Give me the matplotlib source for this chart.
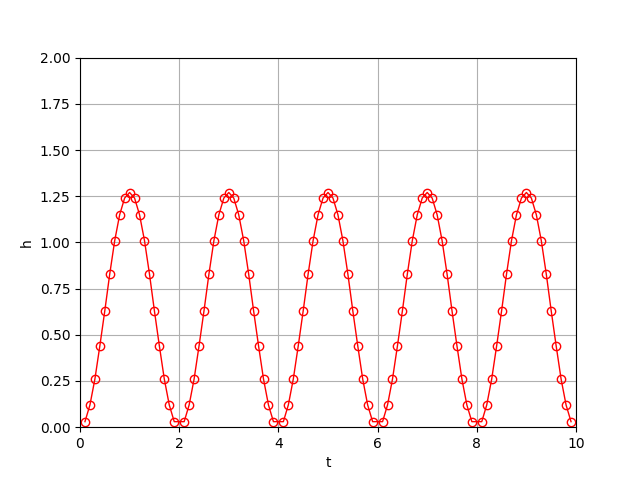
import numpy as np
import matplotlib
matplotlib.use("Agg")
import matplotlib.pyplot as plt

# values, one row per hump
t = [0.1, 0.2, 0.3, 0.4, 0.5, 0.6, 0.7, 0.8, 0.9, 1.0, 1.1, 1.2, 1.3, 1.4, 1.5, 1.6, 1.7, 1.8, 1.9,
     2.1, 2.2, 2.3, 2.4, 2.5, 2.6, 2.7, 2.8, 2.9, 3.0, 3.1, 3.2, 3.3, 3.4, 3.5, 3.6, 3.7, 3.8, 3.9,
     4.1, 4.2, 4.3, 4.4, 4.5, 4.6, 4.7, 4.8, 4.9, 5.0, 5.1, 5.2, 5.3, 5.4, 5.5, 5.6, 5.7, 5.8, 5.9,
     6.1, 6.2, 6.3, 6.4, 6.5, 6.6, 6.7, 6.8, 6.9, 7.0, 7.1, 7.2, 7.3, 7.4, 7.5, 7.6, 7.7, 7.8, 7.9,
     8.1, 8.2, 8.3, 8.4, 8.5, 8.6, 8.7, 8.8, 8.9, 9.0, 9.1, 9.2, 9.3, 9.4, 9.5, 9.6, 9.7, 9.8, 9.9]
h = [0.03, 0.12, 0.26, 0.44, 0.63, 0.83, 1.01, 1.15, 1.24, 1.27, 1.24, 1.15, 1.01, 0.83, 0.63, 0.44, 0.26, 0.12, 0.03,
     0.03, 0.12, 0.26, 0.44, 0.63, 0.83, 1.01, 1.15, 1.24, 1.27, 1.24, 1.15, 1.01, 0.83, 0.63, 0.44, 0.26, 0.12, 0.03,
     0.03, 0.12, 0.26, 0.44, 0.63, 0.83, 1.01, 1.15, 1.24, 1.27, 1.24, 1.15, 1.01, 0.83, 0.63, 0.44, 0.26, 0.12, 0.03,
     0.03, 0.12, 0.26, 0.44, 0.63, 0.83, 1.01, 1.15, 1.24, 1.27, 1.24, 1.15, 1.01, 0.83, 0.63, 0.44, 0.26, 0.12, 0.03,
     0.03, 0.12, 0.26, 0.44, 0.63, 0.83, 1.01, 1.15, 1.24, 1.27, 1.24, 1.15, 1.01, 0.83, 0.63, 0.44, 0.26, 0.12, 0.03]

fig, ax = plt.subplots(figsize=(6.4, 4.8), dpi=100)
ax.plot(t, h, color="red", marker="o", fillstyle="none", linewidth=1)
ax.set_xlim(0, 10)
ax.set_ylim(0, 2)
ax.set_xlabel("t")
ax.set_ylabel("h")
ax.grid(True)
fig.savefig("out.png")
